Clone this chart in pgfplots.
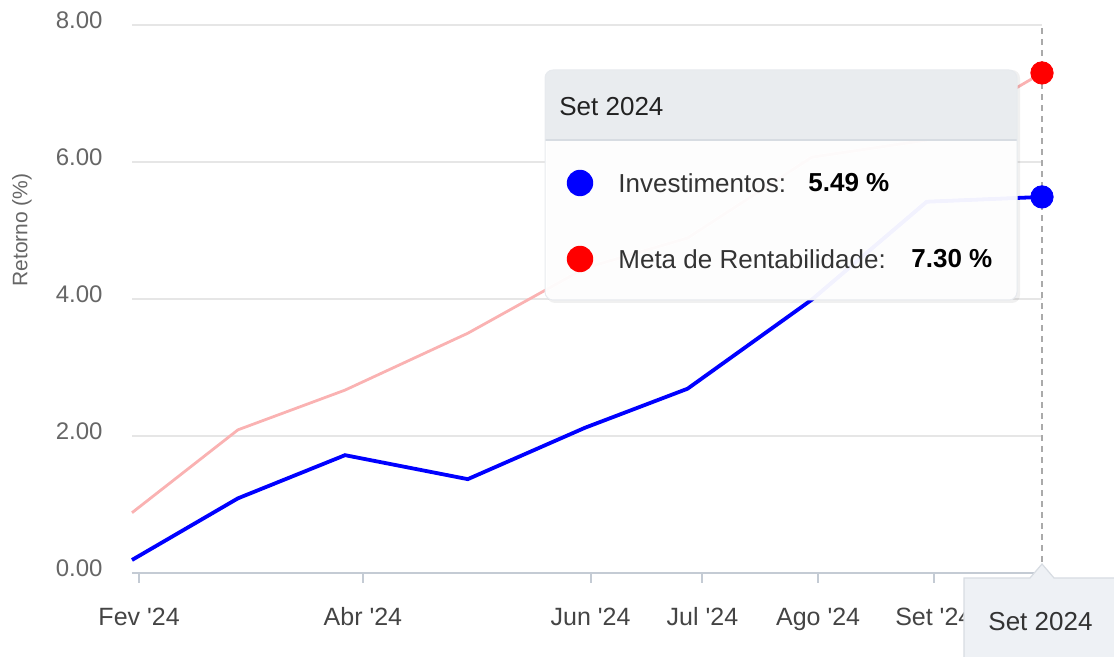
\documentclass[border=0pt]{standalone}
\usepackage{fontspec}
\setmainfont{Liberation Sans}
\usepackage{pgfplots}
\pgfplotsset{compat=1.18}
\definecolor{gridc}{RGB}{230,230,230}
\definecolor{axisc}{RGB}{196,203,212}
\definecolor{labc}{RGB}{102,102,102}
\definecolor{xlabc}{RGB}{68,68,68}
\definecolor{redfade}{RGB}{250,178,178}
\definecolor{tiphead}{RGB}{233,236,239}
\definecolor{tipbot}{RGB}{238,241,245}
\definecolor{tipborder}{RGB}{215,220,226}
\definecolor{crossc}{RGB}{170,170,170}
\newcommand{\ap}{\textquotesingle}
\begin{document}
\begin{tikzpicture}
\path[use as bounding box] (-66pt,-42pt) rectangle (491pt,286.5pt);
\begin{axis}[
  at={(0,0)}, anchor=south west,
  scale only axis, width=455pt, height=274pt,
  xmin=29.1, xmax=273, ymin=0, ymax=8,
  clip=false,
  axis x line*=bottom, axis y line*=left,
  y axis line style={draw=none},
  x axis line style={axisc, line width=1pt},
  xtick={31,91,152,182,213,244},
  xticklabels={Fev \ap24, Abr \ap24, Jun \ap24, Jul \ap24, Ago \ap24, Set \ap24},
  xtick style={axisc, line width=1pt},
  tick align=outside, major tick length=5pt,
  ytick={0,2,4,6,8},
  ytick style={draw=none},
  ymajorgrids, grid style={gridc, line width=0.6pt},
  yticklabel style={/pgf/number format/fixed, /pgf/number format/fixed zerofill, /pgf/number format/precision=2, /pgf/number format/assume math mode=true},
  yticklabel style={font=\fontsize{12}{14}\selectfont, text=labc, inner sep=0pt, xshift=-9.5pt, yshift=2.5pt},
  xticklabel style={font=\fontsize{12.5}{14}\selectfont, text=xlabc, inner sep=0pt, anchor=base, yshift=-21.5pt},
  ylabel={Retorno (\%)},
  every axis y label/.style={at={(axis description cs:0,0.626)}, xshift=-55pt, rotate=90, anchor=center, font=\fontsize{10.5}{12}\selectfont, text=labc},
]
\draw[crossc, line width=0.6pt, dash pattern=on 3pt off 2.5pt] (axis cs:273,0) -- (axis cs:273,8);
\addplot[redfade, line width=1.4pt] coordinates {
  (29.1,0.88) (57.5,2.09) (86.2,2.67) (119.1,3.50) (150.5,4.45)
  (178,4.89) (211.3,6.07) (242.1,6.32) (273,7.30)};
\addplot[blue, line width=1.9pt] coordinates {
  (29.1,0.19) (57.5,1.09) (86.2,1.72) (119.1,1.37) (150.5,2.12)
  (178,2.69) (211.3,3.99) (242.1,5.42) (273,5.49)};
\addplot[only marks, mark=*, mark size=5.6pt, red] coordinates {(273,7.30)};
\addplot[only marks, mark=*, mark size=5.6pt, blue] coordinates {(273,5.49)};
\end{axis}
% main tooltip
\fill[black, opacity=0.06, rounded corners=4pt] (207.5pt,135pt) rectangle (444pt,251.5pt);
\fill[white, fill opacity=0.95, rounded corners=4pt] (206.5pt,136.5pt) rectangle (442.5pt,251.5pt);
\begin{scope}
\clip[rounded corners=4pt] (206.5pt,136.5pt) rectangle (442.5pt,251.5pt);
\fill[tiphead, fill opacity=0.97] (206.5pt,216.5pt) rectangle (442.5pt,251.5pt);
\draw[tipborder, line width=0.6pt] (206.5pt,216.5pt) -- (442.5pt,216.5pt);
\end{scope}
\draw[tipborder!60, line width=0.5pt, rounded corners=4pt] (206.5pt,136.5pt) rectangle (442.5pt,251.5pt);
\node[anchor=west, inner sep=0pt, font=\fontsize{13}{15}\selectfont, text={rgb,255:red,34;green,34;blue,34}] at (213.5pt,233pt) {Set 2024};
\fill[blue] (224pt,195pt) circle (6.6pt);
\fill[red] (224pt,157pt) circle (6.6pt);
\node[anchor=west, inner sep=0pt, font=\fontsize{13}{15}\selectfont, text={rgb,255:red,51;green,51;blue,51}] at (243pt,195pt) {Investimentos:};
\node[anchor=west, inner sep=0pt, font=\fontsize{13}{15}\selectfont\bfseries] at (338pt,195pt) {5.49 \%};
\node[anchor=west, inner sep=0pt, font=\fontsize{13}{15}\selectfont, text={rgb,255:red,51;green,51;blue,51}] at (243pt,157pt) {Meta de Rentabilidade:};
\node[anchor=west, inner sep=0pt, font=\fontsize{13}{15}\selectfont\bfseries] at (389.5pt,157pt) {7.30 \%};
% x-axis tooltip
\filldraw[fill=tipbot, draw=tipborder, line width=0.6pt]
  (416pt,-50pt) -- (416pt,-2.5pt) -- (449pt,-2.5pt) -- (455pt,4.5pt) -- (461pt,-2.5pt) -- (500pt,-2.5pt) -- (500pt,-50pt) -- cycle;
\node[anchor=west, inner sep=0pt, font=\fontsize{13}{15}\selectfont, text={rgb,255:red,51;green,51;blue,51}] at (428pt,-24.5pt) {Set 2024};
\end{tikzpicture}
\end{document}
